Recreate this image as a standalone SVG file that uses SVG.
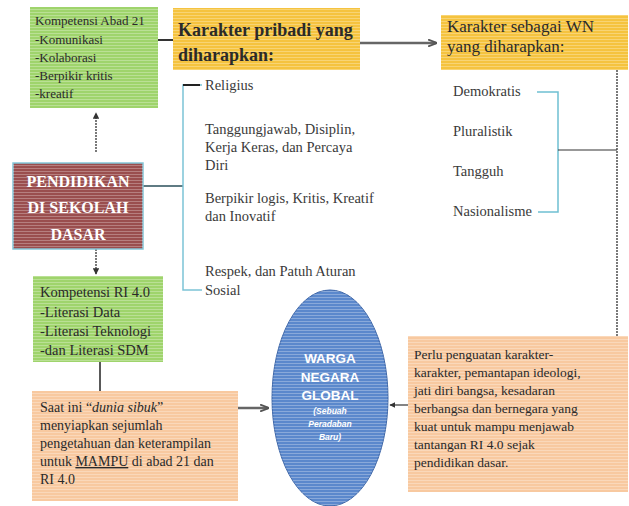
<svg xmlns="http://www.w3.org/2000/svg" width="629" height="506" viewBox="0 0 629 506">
<defs>
<pattern id="stripes" width="4" height="3" patternUnits="userSpaceOnUse"><rect width="4" height="1" fill="#ffffff" opacity="0.28"/></pattern>
<marker id="ah" viewBox="0 0 10 10" refX="9" refY="5" markerWidth="5" markerHeight="5" orient="auto"><path d="M0,0 L10,5 L0,10 z" fill="#333"/></marker>
<marker id="ahg" viewBox="0 0 10 10" refX="9" refY="5" markerWidth="3.5" markerHeight="3.5" orient="auto"><path d="M0,1 L10,5 L0,9" fill="none" stroke="#555" stroke-width="2"/></marker>
</defs>
<style>
.st{fill:url(#stripes)}
</style>
<rect width="629" height="506" fill="#fff"/>

<g id="connectors" fill="none">
<line x1="158" y1="40" x2="173" y2="40" stroke="#333" stroke-width="2"/>
<line x1="360" y1="43" x2="436" y2="43" stroke="#666" stroke-width="2.5" marker-end="url(#ahg)"/>
<line x1="96" y1="152" x2="96" y2="113" stroke="#333" stroke-width="1.3" stroke-dasharray="2 1" marker-end="url(#ah)"/>
<line x1="96" y1="249" x2="96" y2="274" stroke="#333" stroke-width="1.3" stroke-dasharray="2 1" marker-end="url(#ah)"/>
<line x1="143" y1="186" x2="183" y2="186" stroke="#2a4f5a" stroke-width="1.5"/>
<path d="M202 85 H183 V290 H202" stroke="#7cc3d6" stroke-width="1.5"/>
<line x1="183" y1="85" x2="200" y2="85" stroke="#222" stroke-width="2"/>
<path d="M537 92 H558 V212 H538" stroke="#6fc0d2" stroke-width="1.5"/>
<line x1="558" y1="150" x2="617" y2="150" stroke="#333" stroke-width="1.2"/>
<line x1="617" y1="70" x2="617" y2="336" stroke="#333" stroke-width="1.3" stroke-dasharray="2 1"/>
<line x1="100" y1="362" x2="100" y2="391" stroke="#222" stroke-width="1.5"/>
<line x1="238" y1="408" x2="268" y2="408" stroke="#666" stroke-width="2.5" marker-end="url(#ahg)"/>
<line x1="408" y1="405" x2="390" y2="405" stroke="#333" stroke-width="1.2" marker-end="url(#ah)"/>
</g>

<g id="kompetensi-abad21" font-family="Liberation Serif, Times New Roman, serif" fill="#2a2a2a" font-size="13">
<rect x="30" y="7" width="128" height="101" fill="#9fd46c"/>
<rect x="30" y="7" width="128" height="101" class="st"/>
<text x="35" y="25">Kompetensi Abad 21</text>
<text x="35" y="44">-Komunikasi</text>
<text x="35" y="62">-Kolaborasi</text>
<text x="35" y="80">-Berpikir kritis</text>
<text x="35" y="98">-kreatif</text>
</g>

<g id="karakter-pribadi" font-family="Liberation Serif, Times New Roman, serif" fill="#2a2a2a">
<rect x="173" y="8" width="187" height="62" fill="#f5c33f"/>
<rect x="173" y="8" width="187" height="62" class="st"/>
<text x="178" y="36" font-size="18" font-weight="bold">Karakter pribadi yang</text>
<text x="178" y="61" font-size="18" font-weight="bold">diharapkan:</text>
</g>

<g id="karakter-wn" font-family="Liberation Serif, Times New Roman, serif" fill="#2a2a2a">
<rect x="441" y="15" width="187" height="55" fill="#f5c33f"/>
<rect x="441" y="15" width="187" height="55" class="st"/>
<text x="447" y="32" font-size="17">Karakter sebagai WN</text>
<text x="447" y="52" font-size="17">yang diharapkan:</text>
</g>

<g id="pendidikan" font-family="Liberation Serif, Times New Roman, serif" font-weight="bold" font-size="16" fill="#fff" text-anchor="middle">
<rect x="13" y="163" width="130" height="86" fill="#9a4e4e" stroke="#84c6d8" stroke-width="1.5"/>
<rect x="13" y="163" width="130" height="86" class="st"/>
<text x="78" y="187">PENDIDIKAN</text>
<text x="78" y="213">DI SEKOLAH</text>
<text x="78" y="240">DASAR</text>
</g>

<g id="karakter-pribadi-list" font-family="Liberation Serif, Times New Roman, serif" fill="#3a3a3a" font-size="14.5">
<text x="205" y="90">Religius</text>
<text x="205" y="134">Tanggungjawab, Disiplin,</text>
<text x="205" y="152">Kerja Keras, dan Percaya</text>
<text x="205" y="170">Diri</text>
<text x="205" y="203">Berpikir logis, Kritis, Kreatif</text>
<text x="205" y="221">dan Inovatif</text>
<text x="205" y="276">Respek, dan Patuh Aturan</text>
<text x="205" y="295">Sosial</text>
</g>

<g id="karakter-wn-list" font-family="Liberation Serif, Times New Roman, serif" fill="#3a3a3a" font-size="14.5">
<text x="453" y="96">Demokratis</text>
<text x="453" y="136">Pluralistik</text>
<text x="453" y="176">Tangguh</text>
<text x="453" y="216">Nasionalisme</text>
</g>

<g id="kompetensi-ri" font-family="Liberation Serif, Times New Roman, serif" fill="#2a2a2a" font-size="14.5">
<rect x="33" y="276" width="130" height="86" fill="#9fd46c"/>
<rect x="33" y="276" width="130" height="86" class="st"/>
<text x="40" y="297">Kompetensi RI 4.0</text>
<text x="40" y="317">-Literasi Data</text>
<text x="40" y="336">-Literasi Teknologi</text>
<text x="40" y="355">-dan Literasi SDM</text>
</g>

<g id="dunia-sibuk" font-family="Liberation Serif, Times New Roman, serif" fill="#2a2a2a" font-size="14">
<rect x="32" y="391" width="206" height="110" fill="#f8c9a0"/>
<rect x="32" y="391" width="206" height="110" class="st"/>
<text x="40" y="412">Saat ini “<tspan font-style="italic">dunia sibuk</tspan>”</text>
<text x="40" y="430">menyiapkan sejumlah</text>
<text x="40" y="448">pengetahuan dan keterampilan</text>
<text x="40" y="466">untuk <tspan text-decoration="underline">MAMPU</tspan> di abad 21 dan</text>
<text x="40" y="484">RI 4.0</text>
</g>

<g id="warga-negara-global" font-family="Liberation Sans, Arial, sans-serif" font-weight="bold" fill="#fff" text-anchor="middle">
<ellipse cx="330" cy="398" rx="58" ry="108" fill="#5b88cc" stroke="#3d66a8" stroke-width="1"/>
<ellipse cx="330" cy="398" rx="58" ry="108" class="st"/>
<text x="330" y="363" font-size="13.5">WARGA</text>
<text x="330" y="382" font-size="13.5">NEGARA</text>
<text x="330" y="400" font-size="13.5">GLOBAL</text>
<text x="330" y="414" font-size="8.5" font-style="italic">(Sebuah</text>
<text x="330" y="427" font-size="8.5" font-style="italic">Peradaban</text>
<text x="330" y="440" font-size="8.5" font-style="italic">Baru)</text>
</g>

<g id="penguatan-karakter" font-family="Liberation Serif, Times New Roman, serif" fill="#2a2a2a" font-size="13.5">
<rect x="408" y="336" width="220" height="156" fill="#f8c9a0"/>
<rect x="408" y="336" width="220" height="156" class="st"/>
<text x="414" y="359">Perlu  penguatan karakter-</text>
<text x="414" y="377">karakter, pemantapan ideologi,</text>
<text x="414" y="395">jati diri bangsa, kesadaran</text>
<text x="414" y="413">berbangsa dan bernegara yang</text>
<text x="414" y="431">kuat untuk mampu menjawab</text>
<text x="414" y="449">tantangan RI 4.0  sejak</text>
<text x="414" y="467">pendidikan dasar.</text>
</g>
</svg>
